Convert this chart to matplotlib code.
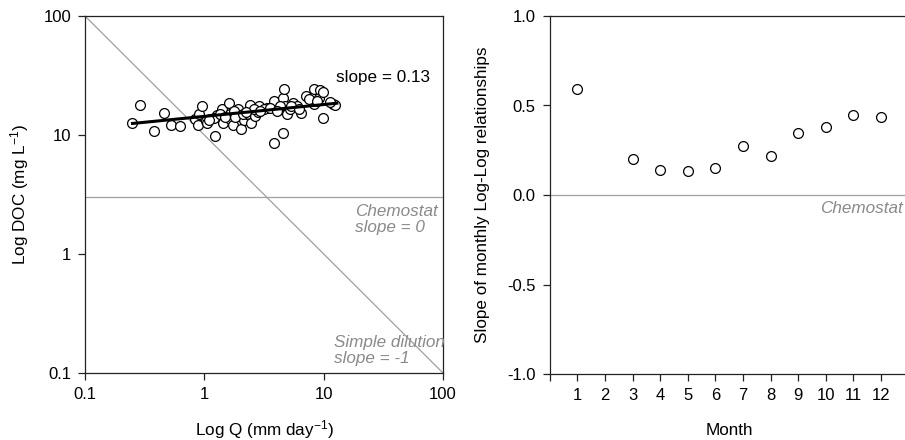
import matplotlib
matplotlib.use("Agg")
import matplotlib.pyplot as plt
import numpy as np

plt.rcParams['font.family'] = ['Liberation Sans', 'DejaVu Sans']
plt.rcParams['mathtext.fontset'] = 'custom'
plt.rcParams['mathtext.rm'] = 'Liberation Sans'
plt.rcParams['mathtext.default'] = 'regular'
plt.rcParams['axes.unicode_minus'] = False

# ---- Left panel data: DOC vs Q ----
q_vals = [0.25, 0.29, 0.38, 0.46, 0.53, 0.63, 0.83, 0.90, 0.95, 0.89,
          1.03, 1.12, 1.24, 1.28, 1.41, 1.43, 1.60, 1.63, 1.65, 1.73,
          1.90, 1.98, 2.03, 2.17, 2.28, 2.40, 2.46, 2.68, 2.86, 2.80,
          3.36, 3.81, 3.81, 4.20, 4.54, 4.57, 4.66, 4.78, 4.94, 5.20,
          5.54, 5.98, 6.51, 7.05, 8.27, 8.36, 9.08, 9.37, 9.88, 9.88,
          12.0, 12.4, 11.4, 1.05, 1.20, 1.36, 1.76, 1.82, 2.11, 2.59,
          3.15, 3.58, 4.34, 4.07, 5.33, 6.18, 7.50, 8.80, 1.10, 1.50,
          2.25, 2.95]
doc_vals = [12.6, 17.8, 10.8, 15.3, 12.1, 11.9, 13.5, 14.9, 17.5, 12.1,
            13.1, 13.7, 9.8, 14.6, 16.4, 12.7, 18.4, 14.9, 13.5, 12.1,
            16.6, 14.4, 11.3, 13.4, 14.9, 17.7, 12.7, 14.4, 17.5, 15.6,
            16.9, 19.3, 8.6, 16.4, 10.3, 20.5, 24.2, 17.5, 14.9, 16.4,
            18.4, 17.5, 15.2, 21.2, 18.1, 24.2, 20.5, 23.8, 22.9, 14.0,
            18.3, 17.8, 18.9, 12.7, 14.0, 15.0, 15.8, 14.1, 14.9, 16.4,
            16.4, 16.9, 17.5, 15.9, 17.5, 16.4, 19.9, 19.3, 13.3, 14.2,
            15.5, 16.0]
fit_q = [0.25, 12.9]
fit_doc = [12.5, 18.5]
chemostat_level = 3.0
dilution_q = [0.1, 100]
dilution_doc = [100, 0.1]

# ---- Right panel data: monthly slopes ----
months = [1, 3, 4, 5, 6, 7, 8, 9, 10, 11, 12]
slopes = [0.59, 0.20, 0.14, 0.134, 0.149, 0.274, 0.218, 0.349, 0.38, 0.446, 0.437]
month_ticks = list(range(0, 13))
month_labels = [''] + [str(m) for m in range(1, 13)]

W, H = 905, 440
fig = plt.figure(figsize=(W / 100, H / 100), dpi=100)

spine_col = '#222222'
gray_line = '#a0a0a0'
gray_text = '#8a8a8a'
fs_tick = 12
fs_lab = 12.3

# Left axes
ax1 = fig.add_axes([85 / W, (H - 373) / H, (443 - 85) / W, (373 - 16) / H])
ax1.set_xscale('log')
ax1.set_yscale('log')
ax1.set_xlim(0.1, 100)
ax1.set_ylim(0.1, 100)
ax1.plot(dilution_q, dilution_doc, color=gray_line, lw=0.9, zorder=1)
ax1.axhline(chemostat_level, color=gray_line, lw=0.9, zorder=1)
ax1.scatter(q_vals, doc_vals, s=50, facecolors='white', edgecolors='black',
            linewidths=0.9, zorder=3)
ax1.plot(fit_q, fit_doc, color='black', lw=2.2, zorder=4)
ax1.set_xticks([0.1, 1, 10, 100])
ax1.set_xticklabels(['0.1', '1', '10', '100'])
ax1.set_yticks([0.1, 1, 10, 100])
ax1.set_yticklabels(['0.1', '1', '10', '100'])
ax1.minorticks_off()
ax1.tick_params(axis='both', which='major', direction='out', length=5,
                width=0.9, color=spine_col, labelsize=fs_tick, pad=5)
for s in ax1.spines.values():
    s.set_color(spine_col)
    s.set_linewidth(0.9)
ax1.set_xlabel('Log Q (mm day$^{-1}$)', fontsize=fs_lab)
ax1.set_ylabel('Log DOC (mg L$^{-1}$)', fontsize=fs_lab)
ax1.xaxis.set_label_coords(0.5, (373 - 430) / 357)
ax1.xaxis.label.set_va('center')
ax1.yaxis.set_label_coords((20 - 85) / 358, 0.5)
ax1.yaxis.label.set_va('center')
ax1.text(12.8, 30.5, 'slope = 0.13', fontsize=fs_lab, color='black',
         ha='left', va='center')
ax1.text(18.4, 1.96, 'Chemostat\nslope = 0', fontsize=fs_lab, color=gray_text,
         style='italic', ha='left', va='center', linespacing=1.1)
ax1.text(12.1, 0.154, 'Simple dilution\nslope = -1', fontsize=fs_lab,
         color=gray_text, style='italic', ha='left', va='center', linespacing=1.1)

# Right axes
x0 = 549.7
dx = 27.6
ax2 = fig.add_axes([x0 / W, (H - 374) / H, 13 * dx / W, (374 - 16) / H])
ax2.set_xlim(0, 13)
ax2.set_ylim(-1.0, 1.0)
ax2.axhline(0, color=gray_line, lw=0.9, zorder=1)
ax2.scatter(months, slopes, s=50, facecolors='white', edgecolors='black',
            linewidths=0.9, zorder=3)
ax2.set_xticks(month_ticks)
ax2.set_xticklabels(month_labels)
ax2.set_yticks([-1.0, -0.5, 0.0, 0.5, 1.0])
ax2.set_yticklabels(['-1.0', '-0.5', '0.0', '0.5', '1.0'])
ax2.tick_params(axis='both', which='major', direction='out', length=5,
                width=0.9, color=spine_col, labelsize=fs_tick, pad=5)
for s in ax2.spines.values():
    s.set_color(spine_col)
    s.set_linewidth(0.9)
ax2.spines['right'].set_visible(False)
ax2.set_xlabel('Month', fontsize=fs_lab)
ax2.set_ylabel('Slope of monthly Log-Log relationships', fontsize=fs_lab)
ax2.xaxis.set_label_coords(0.5, (374 - 430) / 358)
ax2.xaxis.label.set_va('center')
ax2.yaxis.set_label_coords((483 - 550) / 358.8, 0.5)
ax2.yaxis.label.set_va('center')
ax2.text(12.8, -0.073, 'Chemostat', fontsize=fs_lab, color=gray_text,
         style='italic', ha='right', va='center')

fig.savefig('out.png', dpi=100)
